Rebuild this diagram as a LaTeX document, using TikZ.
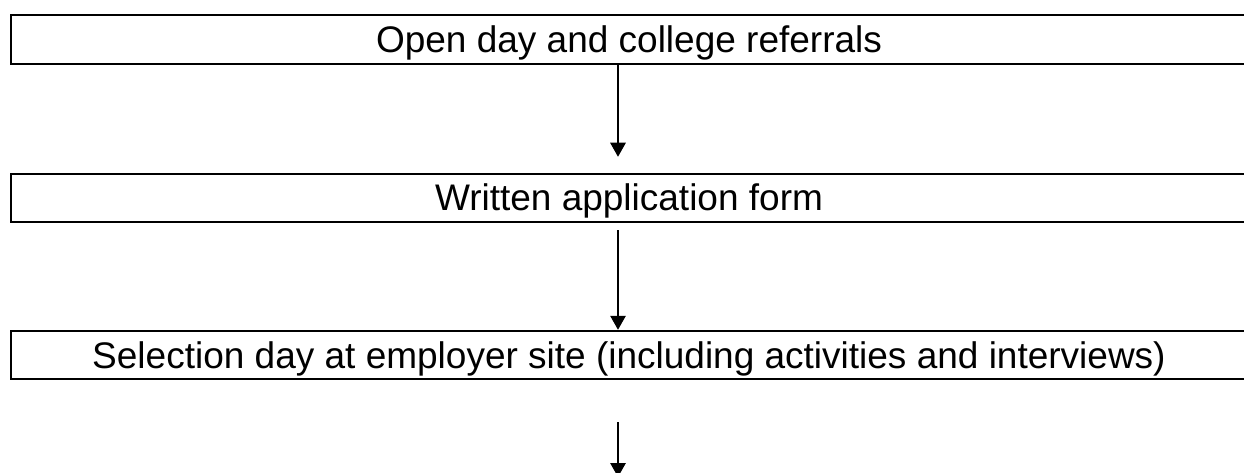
\documentclass[tikz,border=0pt]{standalone}
\usepackage{fontspec}
\setmainfont{Liberation Sans}
\usetikzlibrary{arrows.meta}

\begin{document}
\begin{tikzpicture}[x=1pt,y=-1pt,
  stagebox/.style={draw=black, line width=2pt, minimum width=1236pt,
    minimum height=48.5pt, inner sep=0pt, text height=26pt, text depth=0pt,
    font=\fontsize{37}{44}\selectfont},
  flow/.style={line width=1.3pt, -{Triangle[width=15.5pt,length=14pt]}}]
  \useasboundingbox (0,0) rectangle (1244,473);
  \clip (0,0) rectangle (1244,473);

  % process stages, stacked top to bottom
  \node[stagebox] (b1) at (629,39.3) {Open day and college referrals};
  \node[stagebox] (b2) at (629,198) {Written application form};
  \node[stagebox] (b3) at (629,355) {Selection day at employer site (including activities and interviews)};

  % arrow column and the open end of the last arrow
  \coordinate (ax) at (618,0);
  \coordinate (next) at (618,477);

  \draw[flow] (b1.south -| ax) -- ([yshift=16pt]b2.north -| ax);
  \draw[flow] ([yshift=-7pt]b2.south -| ax) -- (b3.north -| ax);
  \draw[flow] ([yshift=-42pt]b3.south -| ax) -- (next);
\end{tikzpicture}
\end{document}
